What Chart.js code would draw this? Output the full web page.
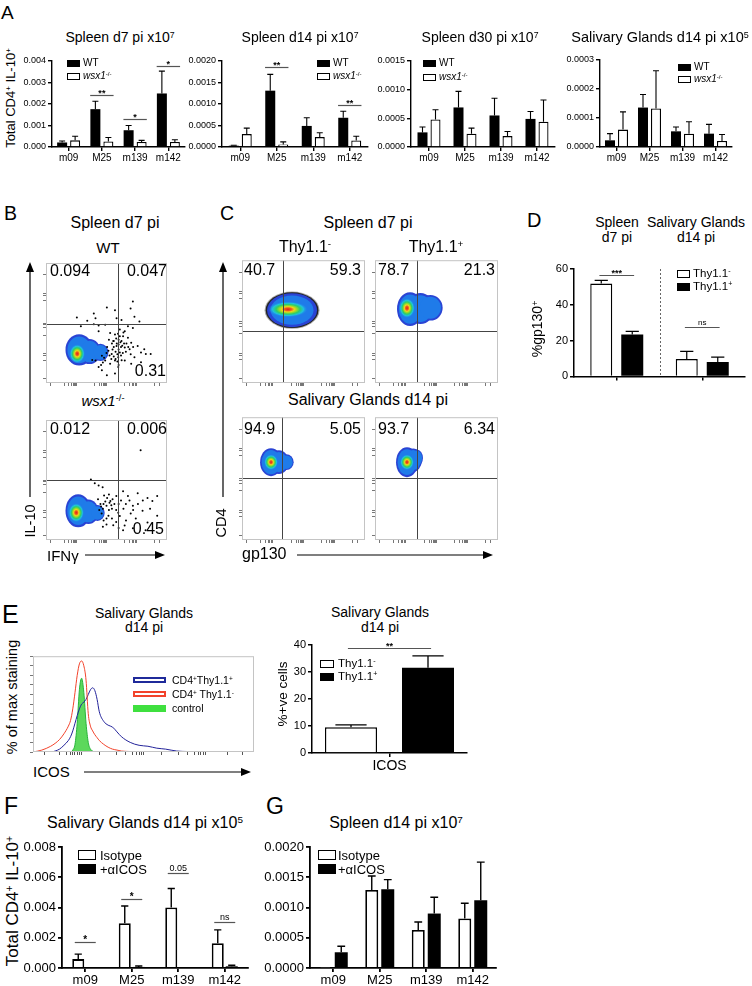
<!DOCTYPE html>
<html>
<head>
<meta charset="utf-8">
<script src="https://cdn.jsdelivr.net/npm/chart.js@4.4.1/dist/chart.umd.min.js"></script>
<style>
body{margin:0;background:#fff;}
#fig{position:relative;width:752px;height:986px;overflow:hidden;font-family:"Liberation Sans",Arial,sans-serif;color:#000;}
#fig canvas{position:absolute;}
.t{position:absolute;white-space:nowrap;line-height:1;}
.t sup{font-size:0.62em;vertical-align:baseline;position:relative;top:-0.5em;}
.key{position:absolute;box-sizing:border-box;}
</style>
</head>
<body>
<div id="fig"><svg id="deco" width="752" height="986" style="position:absolute;left:0;top:0"></svg></div>
<script>
// ---------- data ----------
const strains = ['m09', 'M25', 'm139', 'm142'];

// A: total CD4+ IL-10+ cells, WT vs wsx1-/-
const d7Wt = [0.00021, 0.00176, 0.00078, 0.00249];
const d7WtSem = [0.00007, 0.00037, 0.00022, 0.00104];
const d7Ko = [0.00031, 0.00026, 0.00023, 0.00023];
const d7KoSem = [0.00019, 0.00018, 0.00008, 0.00011];
const d7Sig = [[1, 0.00244, '**'], [2, 0.00129, '*'], [3, 0.00377, '*']];

const d14Wt = [0.00003, 0.00131, 0.00049, 0.00068];
const d14WtSem = [0.00001, 0.00038, 0.00019, 0.00015];
const d14Ko = [0.0003, 0.00006, 0.00023, 0.00015];
const d14KoSem = [0.00014, 0.00006, 0.0001, 0.0001];
const d14Sig = [[1, 0.00187, '**'], [3, 0.00097, '**']];

const d30Wt = [0.000255, 0.00069, 0.00055, 0.00049];
const d30WtSem = [0.000095, 0.00028, 0.0003, 0.00013];
const d30Ko = [0.00048, 0.00023, 0.00019, 0.00044];
const d30KoSem = [0.00017, 0.0001, 0.00008, 0.00038];

const sgWt = [0.000023, 0.000136, 0.000054, 0.000046];
const sgWtSem = [0.000023, 0.000045, 0.000015, 0.000032];
const sgKo = [0.00006, 0.000133, 0.000046, 0.000021];
const sgKoSem = [0.000061, 0.00013, 0.000041, 0.000022];

// B: IL-10 vs IFNg dot plots (channel units 0-1000)
const bWtGate = [597, 488];
const bWtCore = [258, 244, 65, 80];
const bWtShapes = [[274, 276, 113, 130], [360, 262, 92, 104], [450, 255, 66, 72]];
const bWtDots = [[718,680],[699,621],[570,607],[503,629],[395,580],[409,539],[255,545],[341,518],[395,490],[435,480],
  [288,472],[489,485],[583,539],[624,526],[731,553],[772,512],[677,472],[651,431],[718,458],[637,390],[677,377],
  [704,336],[758,309],[812,282],[785,254],[825,241],[865,241],[731,214],[785,173],[556,350],[583,309],[516,268],
  [543,241],[489,187],[530,160],[435,133],[503,65],[462,106],[570,187],[597,214],[610,254],[651,295],[691,282],
  [624,350],[570,404],[610,445],[530,417],[435,431],[651,187],[704,160],[597,133],[570,79],[409,187],[462,228],
  [382,192],[560,300],[585,330],[600,280],[575,260],[620,300],[600,360],[550,280],[590,240],
  [545,330],[560,350],[580,370],[600,320],[615,340],[630,310],[645,330],[560,220],[575,200],[590,180],[620,230],
  [635,250],[660,260],[665,330],[680,300],[540,200],[525,230],[610,390],[595,410],[640,420],[520,360],[505,300],
  [500,250],[480,210],[470,170],[455,150],[600,150],[625,190],[700,240],[720,300]];
const bKoGate = [597, 496];
const bKoCore = [250, 228, 65, 80];
const bKoShapes = [[266, 244, 105, 138], [350, 235, 86, 102], [425, 225, 60, 66]];
const bKoDots = [[782,748],[371,504],[403,472],[435,455],[468,439],[637,407],[677,366],[758,390],[839,350],[879,325],
  [919,366],[718,285],[798,244],[597,228],[661,163],[742,179],[839,146],[919,203],[532,325],[581,366],[500,285],
  [556,122],[637,81],[718,98],[823,81],[476,163],[516,203],[450,300],[470,260],[490,320],[520,250],[540,290],
  [460,220],[500,180],[430,340],[480,370],[520,380],[550,340],
  [440,250],[455,280],[475,300],[505,350],[525,310],[545,260],[565,300],[580,250],[600,300],[620,330],[640,260],
  [660,300],[690,330],[700,220],[720,250],[610,200],[580,150],[545,180],[500,130],[470,110],[600,100],[650,120],
  [760,300],[800,330],[860,260]];
const bQuad = [['0.094', '0.047', '0.31'], ['0.012', '0.006', '0.45']];

// C: CD4 vs gp130 dot plots
const cSpNegGate = [333, 423];
const cSpNegCore = [374, 600, 161, 65];
const cSpNegShapes = [[407, 593, 203, 138]];
const cSpPosGate = [342, 423];
const cSpPosCore = [260, 610, 65, 81];
const cSpPosShapes = [[285, 602, 106, 138], [370, 606, 110, 126], [450, 612, 100, 104]];
const cSgNegGate = [325, 504];
const cSgNegCore = [236, 634, 57, 65];
const cSgNegShapes = [[236, 634, 89, 114], [300, 634, 80, 96], [360, 634, 60, 64]];
const cSgPosGate = [342, 504];
const cSgPosCore = [260, 634, 57, 65];
const cSgPosShapes = [[260, 634, 89, 122], [310, 650, 70, 96], [340, 667, 50, 70]];
const cQuad = [['40.7', '59.3'], ['78.7', '21.3'], ['94.9', '5.05'], ['93.7', '6.34']];
const flowTicks = [40, 150, 190, 212, 226, 236, 244, 250, 400, 440, 462, 476, 486, 494, 500, 650, 690, 712, 726, 736, 744, 750, 900, 940];

// D: % gp130+
const dGroups = ['Spleen d7 pi', 'Salivary Glands d14 pi'];
const dNeg = [51.9, 9.7];
const dNegSem = [1.8, 4.3];
const dPos = [23.4, 8.1];
const dPosSem = [1.8, 2.7];
const dSig = [[0, 56.8, '***'], [1, 27.6, 'ns']];

// E: ICOS histogram (% of max) and % +ve cells
const histX = [0, 4, 8, 10, 12, 14, 16, 17, 18, 19, 20, 21, 22, 23, 24, 25, 26, 27, 28, 29, 30, 32, 34, 36, 38, 40, 44, 48, 52, 56, 60, 65, 70, 80, 90, 100];
const histPos = [0, 0, 0, 1, 3, 7, 12, 16, 22, 30, 38, 45, 50, 52, 55, 60, 65, 67, 64, 55, 42, 32, 28, 26, 21, 16, 10, 7, 6, 4, 3, 1, 0.5, 0, 0, 0];
const histNeg = [0, 2, 6, 9, 13, 19, 27, 33, 45, 62, 80, 92, 95, 90, 75, 40, 27, 22, 18, 15, 12, 8, 5, 3, 2, 1, 0.5, 0, 0, 0, 0, 0, 0, 0, 0, 0];
const histCtrl = [0, 0, 0, 0, 0, 0, 0, 0, 2, 8, 30, 65, 77, 62, 30, 10, 3, 1, 0, 0, 0, 0, 0, 0, 0, 0, 0, 0, 0, 0, 0, 0, 0, 0, 0, 0];
const histTicks = [5, 12, 15, 17, 18, 19, 20, 21, 22, 30, 38, 42, 45, 47, 48, 49, 50, 58, 66, 70, 73, 75, 76, 77, 78, 88, 95];
const icosNeg = [9.5];
const icosNegSem = [0.9];
const icosPos = [31.6];
const icosPosSem = [4.4];
const icosSig = [[0, 38.9, '**']];

// F / G: isotype vs anti-ICOS
const fIso = [0.00059, 0.00296, 0.004, 0.00164];
const fIsoSem = [0.00033, 0.00114, 0.00126, 0.00088];
const fIcos = [0.00001, 0.00007, 0.00002, 0.00011];
const fIcosSem = [0, 0.00006, 0, 0.00007];
const fSig = [[0, 0.00171, '*'], [1, 0.00454, '*'], [2, 0.0063, '0.05'], [3, 0.00307, 'ns']];

const gIso = [0.00001, 0.00129, 0.00063, 0.00082];
const gIsoSem = [0, 0.00023, 0.00013, 0.00025];
const gIcos = [0.00026, 0.0013, 0.0009, 0.00112];
const gIcosSem = [0.0001, 0.00016, 0.00027, 0.00063];

// ---------- helpers ----------
const FONT = '"Liberation Sans", Arial, sans-serif';
Chart.defaults.font.family = FONT;
Chart.defaults.color = '#000';
const fig = document.getElementById('fig');
const extras = {};

function txt(html, x, y, size, anchor, extra) {
  const d = document.createElement('div');
  d.className = 't';
  d.innerHTML = html;
  d.style.left = x + 'px';
  d.style.top = y + 'px';
  d.style.fontSize = size + 'px';
  const tx = anchor === 'c' ? '-50%' : anchor === 'r' ? '-100%' : '0';
  d.style.transform = 'translate(' + tx + ',-50%)' + (extra || '');
  fig.appendChild(d);
}
function vtxt(html, x, y, size) { txt(html, x, y, size, 'c', ' rotate(-90deg)'); }
function key(x, y, w, h, fill, border) {
  const d = document.createElement('div');
  d.className = 'key';
  Object.assign(d.style, {left: x + 'px', top: (y - h / 2) + 'px', width: w + 'px', height: h + 'px', background: fill, border: border || 'none'});
  fig.appendChild(d);
}
function addCanvas(id, left, top, w, h) {
  const cv = document.createElement('canvas');
  cv.id = id; cv.width = w; cv.height = h;
  cv.style.left = left + 'px'; cv.style.top = top + 'px';
  fig.appendChild(cv);
  return cv;
}

// error bars, significance bars, dotted divider, flow blobs/gates
const marks = {
  id: 'marks',
  beforeDatasetsDraw(chart) {
    const ex = extras[chart.canvas.id];
    if (ex && ex.blobs) drawBlobs(chart, ex);
  },
  afterDatasetsDraw(chart) {
    const ex = extras[chart.canvas.id];
    if (!ex) return;
    const ctx = chart.ctx, xs = chart.scales.x, ys = chart.scales.y, a = chart.chartArea;
    ctx.save();
    if (ex.kind === 'bar') {
      ctx.strokeStyle = '#000'; ctx.lineWidth = ex.errW;
      chart.data.datasets.forEach((ds, di) => {
        chart.getDatasetMeta(di).data.forEach((bar, i) => {
          if (!ds.sem || !ds.sem[i]) return;
          const top = ys.getPixelForValue(ds.data[i] + ds.sem[i]);
          const half = bar.width * 0.3;
          ctx.beginPath();
          ctx.moveTo(bar.x, bar.y); ctx.lineTo(bar.x, top);
          ctx.moveTo(bar.x - half, top); ctx.lineTo(bar.x + half, top);
          ctx.stroke();
        });
      });
      (ex.sig || []).forEach(s => {
        const b0 = chart.getDatasetMeta(0).data[s[0]], b1 = chart.getDatasetMeta(1).data[s[0]];
        const mid = (b0.x + b1.x) / 2, half = (b1.x - b0.x) * ex.sigSpan;
        const y = Math.round(ys.getPixelForValue(s[1])) + 0.5;
        ctx.strokeStyle = '#555'; ctx.lineWidth = 1.2;
        ctx.beginPath(); ctx.moveTo(mid - half, y); ctx.lineTo(mid + half, y); ctx.stroke();
        ctx.fillStyle = '#000';
        const small = s[2] === 'ns' || s[2] === '0.05';
        ctx.font = (small ? '' : 'bold ') + (small ? ex.sigSize - 1 : ex.sigSize) + 'px ' + FONT;
        ctx.textAlign = 'center'; ctx.textBaseline = 'alphabetic';
        ctx.fillText(s[2], mid, y - (small ? 3 : 0));
      });
      if (ex.divider) {
        const x = Math.round((xs.getPixelForValue(0) + xs.getPixelForValue(1)) / 2) + 0.5;
        ctx.strokeStyle = '#666'; ctx.lineWidth = 1; ctx.setLineDash([2, 2]);
        ctx.beginPath(); ctx.moveTo(x, a.top); ctx.lineTo(x, a.bottom); ctx.stroke();
      }
    } else {
      if (ex.gate) {
        const gx = Math.round(xs.getPixelForValue(ex.gate[0])) + 0.5;
        const gy = Math.round(ys.getPixelForValue(ex.gate[1])) + 0.5;
        ctx.strokeStyle = '#444'; ctx.lineWidth = 1;
        ctx.beginPath();
        ctx.moveTo(gx, a.top); ctx.lineTo(gx, a.bottom);
        ctx.moveTo(a.left, gy); ctx.lineTo(a.right, gy);
        ctx.stroke();
      }
      ctx.strokeStyle = '#c4c4c4'; ctx.lineWidth = 1;
      ctx.strokeRect(a.left + 0.5, a.top + 0.5, a.width - 1, a.height - 1);
    }
    ctx.restore();
  }
};
Chart.register(marks);

function drawBlobs(chart, ex) {
  const ctx = chart.ctx, xs = chart.scales.x, ys = chart.scales.y, a = chart.chartArea;
  const px = e => {
    const cx = xs.getPixelForValue(e[0]), cy = ys.getPixelForValue(e[1]);
    return {cx, cy, rx: Math.abs(xs.getPixelForValue(e[0] + e[2]) - cx), ry: Math.abs(ys.getPixelForValue(e[1] + e[3]) - cy)};
  };
  const path = (e, k) => {
    const p = px(e);
    ctx.beginPath(); ctx.ellipse(p.cx, p.cy, p.rx * k, p.ry * k, 0, 0, Math.PI * 2);
  };
  ctx.save();
  ctx.beginPath(); ctx.rect(a.left, a.top, a.width, a.height); ctx.clip();
  if (ex.halo) {
    // thin dark fringe of sparse events around the dense population
    ctx.fillStyle = 'rgba(60,60,60,0.45)';
    ex.blobs.forEach(e => { path(e, 1.1); ctx.fill(); });
    ctx.fillStyle = 'rgba(10,10,10,0.85)';
    ex.blobs.forEach(e => { path(e, 1.055); ctx.fill(); });
  }
  ctx.fillStyle = '#2a44d4';
  ex.blobs.forEach(e => { path(e, 1); ctx.fill(); });
  ctx.fillStyle = '#1f7be9';
  ex.blobs.forEach(e => { path(e, 0.86); ctx.fill(); });
  const c = px(ex.core);
  ctx.translate(c.cx, c.cy); ctx.scale(c.rx, c.ry);
  const g = ctx.createRadialGradient(0, 0, 0, 0, 0, 1);
  g.addColorStop(0, '#e0201c'); g.addColorStop(0.18, '#ee5a1c'); g.addColorStop(0.32, '#f0d41c');
  g.addColorStop(0.46, '#8edb2c'); g.addColorStop(0.6, '#2dcc6a'); g.addColorStop(0.78, '#1ec3dc');
  g.addColorStop(1, 'rgba(31,123,233,0)');
  ctx.fillStyle = g; ctx.beginPath(); ctx.arc(0, 0, 1, 0, Math.PI * 2); ctx.fill();
  ctx.restore();
}

function barChart(id, area, o) {
  const yw = 46, pt = 10, pr = 6, xh = o.xh;
  const cv = addCanvas(id, area.l - yw, area.t - pt, area.r - area.l + yw + pr, area.b - area.t + pt + xh);
  const catW = (area.r - area.l) / o.labels.length;
  const cp = 2 * o.slot / catW, bp = o.bar / o.slot;
  extras[id] = {kind: 'bar', sig: o.sig, sigSpan: o.sigSpan, sigSize: o.sigSize, errW: o.errW, divider: o.divider};
  return new Chart(cv, {
    type: 'bar',
    data: {
      labels: o.labels,
      datasets: o.sets.map(s => ({
        data: s.data, sem: s.sem,
        backgroundColor: s.fill, borderColor: '#000',
        borderWidth: s.fill === '#000' ? 0 : o.bw,
        barPercentage: bp, categoryPercentage: cp
      }))
    },
    options: {
      responsive: false, animation: false,
      layout: {padding: {top: pt, right: pr, left: 0, bottom: 0}},
      plugins: {legend: {display: false}, tooltip: {enabled: false}},
      scales: {
        x: {
          grid: {drawOnChartArea: false, offset: false, tickLength: 4, color: '#000', lineWidth: o.axisW},
          border: {color: '#000', width: o.axisW},
          ticks: {display: o.showCats, font: {size: o.catSize}, color: '#000', padding: 1, maxRotation: 0, autoSkip: false},
          afterFit: s => { s.height = xh; }
        },
        y: {
          min: 0, max: o.max,
          grid: {drawOnChartArea: false, tickLength: 4, color: '#000', lineWidth: o.axisW},
          border: {color: '#000', width: o.axisW},
          ticks: {stepSize: o.step, font: {size: o.tickSize}, color: '#000', padding: 2, callback: v => v.toFixed(o.dec)},
          afterFit: s => { s.width = yw; }
        }
      }
    }
  });
}

function flowAxis(len) {
  return {
    type: 'linear', min: 0, max: 1000,
    afterBuildTicks: s => { s.ticks = flowTicks.map(v => ({value: v})); },
    grid: {drawOnChartArea: false, tickLength: 3, color: '#777', lineWidth: 1},
    border: {display: false},
    ticks: {callback: () => '', font: {size: 2}, padding: 0},
    afterFit: s => { if (len === 'h') s.height = 4; else s.width = 4; }
  };
}

function flowChart(id, box, f) {
  const cv = addCanvas(id, box.l - 4, box.t - 1, box.r - box.l + 5, box.b - box.t + 5);
  extras[id] = {kind: 'flow', gate: f.gate, blobs: f.shapes, core: f.core, halo: f.halo};
  return new Chart(cv, {
    type: 'scatter',
    data: {datasets: [{data: (f.dots || []).map(p => ({x: p[0], y: p[1]})), pointRadius: 1, pointBackgroundColor: '#000', pointBorderWidth: 0}]},
    options: {
      responsive: false, animation: false,
      layout: {padding: {top: 1, right: 1, left: 0, bottom: 0}},
      plugins: {legend: {display: false}, tooltip: {enabled: false}},
      scales: {x: flowAxis('h'), y: flowAxis('v')}
    }
  });
}

// ---------- panel A ----------
txt('A', 1, 12, 19, 'l');
vtxt('Total CD4<sup>+</sup> IL-10<sup>+</sup>', 11, 98, 13);
const aBase = {labels: strains, tickSize: 9, catSize: 10, bar: 10, slot: 13, bw: 1.3, axisW: 1.4, errW: 1.1, xh: 18, showCats: true, sigSpan: 0.9, sigSize: 9};
barChart('a1', {l: 52, t: 61, r: 185, b: 147}, Object.assign({}, aBase, {max: 0.004, step: 0.001, dec: 3, sig: d7Sig,
  sets: [{data: d7Wt, sem: d7WtSem, fill: '#000'}, {data: d7Ko, sem: d7KoSem, fill: '#fff'}]}));
barChart('a2', {l: 222, t: 61, r: 368, b: 147}, Object.assign({}, aBase, {max: 0.002, step: 0.0005, dec: 4, sig: d14Sig,
  sets: [{data: d14Wt, sem: d14WtSem, fill: '#000'}, {data: d14Ko, sem: d14KoSem, fill: '#fff'}]}));
barChart('a3', {l: 411, t: 61, r: 555, b: 147}, Object.assign({}, aBase, {max: 0.0015, step: 0.0005, dec: 4,
  sets: [{data: d30Wt, sem: d30WtSem, fill: '#000'}, {data: d30Ko, sem: d30KoSem, fill: '#fff'}]}));
barChart('a4', {l: 600, t: 60, r: 732, b: 147}, Object.assign({}, aBase, {max: 0.0003, step: 0.0001, dec: 4,
  sets: [{data: sgWt, sem: sgWtSem, fill: '#000'}, {data: sgKo, sem: sgKoSem, fill: '#fff'}]}));
txt('Spleen d7 pi x10<sup>7</sup>', 120, 37, 14, 'c');
txt('Spleen d14 pi x10<sup>7</sup>', 300, 37, 14, 'c');
txt('Spleen d30 pi x10<sup>7</sup>', 480, 37, 14, 'c');
txt('Salivary Glands d14 pi x10<sup>5</sup>', 660, 37, 14.5, 'c');
[[67, 63, 76], [317, 63, 76], [423, 63, 77], [678, 67, 79]].forEach(k => {
  key(k[0], k[1], 13, 7, '#000');
  key(k[0], k[2], 13, 7, '#fff', '1.3px solid #000');
  txt('WT', k[0] + 16, k[1], 10, 'l');
  txt('<i>wsx1</i><sup>-/-</sup>', k[0] + 16, k[2], 10, 'l');
});

// ---------- panel B ----------
txt('B', 4, 214, 19.5, 'l');
txt('Spleen d7 pi', 115, 223, 16, 'c');
txt('WT', 108, 247, 15, 'c');
txt('<i>wsx1</i><sup>-/-</sup>', 103, 401, 15, 'c');
flowChart('b1', {l: 46, t: 260, r: 170, b: 383}, {gate: bWtGate, core: bWtCore, shapes: bWtShapes, dots: bWtDots});
flowChart('b2', {l: 46, t: 417, r: 170, b: 540}, {gate: bKoGate, core: bKoCore, shapes: bKoShapes, dots: bKoDots});
txt(bQuad[0][0], 50, 271, 16, 'l'); txt(bQuad[0][1], 167, 271, 16, 'r'); txt(bQuad[0][2], 166, 371, 16, 'r');
txt(bQuad[1][0], 50, 429, 16, 'l'); txt(bQuad[1][1], 167, 429, 16, 'r'); txt(bQuad[1][2], 164, 529, 16, 'r');
vtxt('IL-10', 30, 521, 14.5);
txt('IFN\u03b3', 47, 555, 15, 'l');

// ---------- panel C ----------
txt('C', 220, 214, 19.5, 'l');
txt('Spleen d7 pi', 368, 223, 16, 'c');
txt('Thy1.1<sup>-</sup>', 305, 247, 16, 'c');
txt('Thy1.1<sup>+</sup>', 436, 247, 16, 'c');
txt('Salivary Glands d14 pi', 368, 400, 16, 'c');
flowChart('c1', {l: 242, t: 260, r: 365, b: 383}, {gate: cSpNegGate, core: cSpNegCore, shapes: cSpNegShapes, halo: true});
flowChart('c2', {l: 375, t: 260, r: 498, b: 383}, {gate: cSpPosGate, core: cSpPosCore, shapes: cSpPosShapes});
flowChart('c3', {l: 242, t: 417, r: 365, b: 540}, {gate: cSgNegGate, core: cSgNegCore, shapes: cSgNegShapes});
flowChart('c4', {l: 375, t: 417, r: 498, b: 540}, {gate: cSgPosGate, core: cSgPosCore, shapes: cSgPosShapes});
[[244, 361, 270], [378, 495, 270], [244, 361, 429], [378, 495, 429]].forEach((p, i) => {
  txt(cQuad[i][0], p[0], p[2], 16, 'l');
  txt(cQuad[i][1], p[1], p[2], 16, 'r');
});
vtxt('CD4', 221, 523, 14.5);
txt('gp130', 242, 554, 16, 'l');

// ---------- panel D ----------
txt('D', 527, 220, 20, 'l');
txt('Spleen', 617, 222, 14, 'c'); txt('d7 pi', 617, 237, 14, 'c');
txt('Salivary Glands', 696, 222, 14, 'c'); txt('d14 pi', 696, 237, 14, 'c');
vtxt('%gp130<sup>+</sup>', 537, 329, 14);
barChart('d1', {l: 574, t: 269, r: 745, b: 380}, {labels: dGroups, max: 60, step: 20, dec: 0, tickSize: 11, catSize: 10,
  bar: 22, slot: 31, bw: 1.4, axisW: 1.5, errW: 1.2, xh: 5, showCats: false, sigSpan: 0.56, sigSize: 9, sig: dSig, divider: true,
  sets: [{data: dNeg, sem: dNegSem, fill: '#fff'}, {data: dPos, sem: dPosSem, fill: '#000'}]});
key(677, 274, 13, 8, '#fff', '1.3px solid #000');
key(677, 287, 13, 8, '#000');
txt('Thy1.1<sup>-</sup>', 693, 274, 11.5, 'l');
txt('Thy1.1<sup>+</sup>', 693, 287, 11.5, 'l');

// ---------- panel E ----------
txt('E', 2, 614, 25, 'l');
txt('Salivary Glands', 144, 613, 14, 'c'); txt('d14 pi', 144, 627, 14, 'c');
vtxt('% of max staining', 12, 697, 14.5);
txt('ICOS', 33, 771, 15, 'l');
(function () {
  const id = 'e1', box = {l: 33, t: 656, r: 254, b: 752};
  const cv = addCanvas(id, box.l - 4, box.t - 1, box.r - box.l + 5, box.b - box.t + 5);
  extras[id] = {kind: 'hist'};
  const pts = ys => histX.map((x, i) => ({x: x, y: ys[i]}));
  new Chart(cv, {
    type: 'line',
    data: {datasets: [
      {data: pts(histNeg), borderColor: '#f2432b', borderWidth: 1, pointRadius: 0, cubicInterpolationMode: 'monotone', fill: false},
      {data: pts(histPos), borderColor: '#23239a', borderWidth: 1, pointRadius: 0, cubicInterpolationMode: 'monotone', fill: false},
      {data: pts(histCtrl), borderColor: '#27b33a', backgroundColor: '#5cd85c', borderWidth: 1, pointRadius: 0, cubicInterpolationMode: 'monotone', fill: 'origin'}
    ]},
    options: {
      responsive: false, animation: false,
      layout: {padding: {top: 1, right: 1, left: 0, bottom: 0}},
      plugins: {legend: {display: false}, tooltip: {enabled: false}},
      scales: {
        x: {type: 'linear', min: 0, max: 100,
          afterBuildTicks: s => { s.ticks = histTicks.map(v => ({value: v})); },
          grid: {drawOnChartArea: false, tickLength: 3, color: '#555'}, border: {display: false},
          ticks: {callback: () => '', font: {size: 2}, padding: 0}, afterFit: s => { s.height = 4; }},
        y: {min: 0, max: 100, grid: {drawOnChartArea: false, tickLength: 3, color: '#777'}, border: {display: false},
          ticks: {stepSize: 10, callback: () => '', font: {size: 2}, padding: 0}, afterFit: s => { s.width = 4; }}
      }
    }
  });
})();
key(133, 680, 33, 6, '#fff', '2px solid #1f2a9a');
key(133, 694, 33, 6, '#fff', '2px solid #f2432b');
key(133, 708, 33, 7, '#3fe03f');
txt('CD4<sup>+</sup>Thy1.1<sup>+</sup>', 172, 680, 10.5, 'l');
txt('CD4<sup>+</sup> Thy1.1<sup>-</sup>', 172, 694, 10.5, 'l');
txt('control', 172, 708, 10.5, 'l');

txt('Salivary Glands', 380, 612, 14, 'c'); txt('d14 pi', 380, 627, 14, 'c');
vtxt('%+ve cells', 283, 694, 13.5);
barChart('e2', {l: 312, t: 645, r: 467, b: 753}, {labels: ['ICOS'], max: 40, step: 10, dec: 0, tickSize: 11, catSize: 14,
  bar: 52, slot: 77, bw: 1.4, axisW: 1.5, errW: 1.3, xh: 24, showCats: true, sigSpan: 0.54, sigSize: 9, sig: icosSig,
  sets: [{data: icosNeg, sem: icosNegSem, fill: '#fff'}, {data: icosPos, sem: icosPosSem, fill: '#000'}]});
key(320, 664, 14, 8, '#fff', '1.3px solid #000');
key(320, 677, 14, 8, '#000');
txt('Thy1.1<sup>-</sup>', 338, 664, 11.5, 'l');
txt('Thy1.1<sup>+</sup>', 338, 677, 11.5, 'l');

// ---------- panels F and G ----------
txt('F', 4, 806, 23, 'l');
txt('G', 266, 806, 23, 'l');
txt('Salivary Glands d14 pi x10<sup>5</sup>', 145, 823, 16, 'c');
txt('Spleen d14 pi x10<sup>7</sup>', 396, 823, 16, 'c');
vtxt('Total CD4<sup>+</sup> IL-10<sup>+</sup>', 12, 901, 17);
const fgBase = {labels: strains, tickSize: 13, catSize: 13, bar: 12, slot: 14, bw: 1.8, axisW: 1.8, errW: 1.4, xh: 18, showCats: true, sigSpan: 0.75, sigSize: 10};
barChart('f1', {l: 62, t: 847, r: 248, b: 968}, Object.assign({}, fgBase, {max: 0.008, step: 0.002, dec: 3, sig: fSig,
  sets: [{data: fIso, sem: fIsoSem, fill: '#fff'}, {data: fIcos, sem: fIcosSem, fill: '#000'}]}));
barChart('g1', {l: 310, t: 847, r: 496, b: 968}, Object.assign({}, fgBase, {max: 0.002, step: 0.0005, dec: 4, bar: 13, slot: 16,
  sets: [{data: gIso, sem: gIsoSem, fill: '#fff'}, {data: gIcos, sem: gIcosSem, fill: '#000'}]}));
[[78, 100], [318, 338]].forEach(k => {
  key(k[0], 855, 18, 10, '#fff', '1.6px solid #000');
  key(k[0], 869, 18, 10, '#000');
  txt('Isotype', k[1], 855, 13, 'l');
  txt('+\u03b1ICOS', k[1], 869, 13, 'l');
});

// ---------- axis arrows ----------
document.getElementById('deco').innerHTML =
  '<g stroke="#000" stroke-width="1.2" fill="#000">' +
  '<line x1="30" y1="497" x2="30" y2="270"/><polygon points="30,262 26,272 34,272" stroke="none"/>' +
  '<line x1="85" y1="555" x2="157" y2="555"/><polygon points="165,555 155,551 155,559" stroke="none"/>' +
  '<line x1="223" y1="497" x2="223" y2="270"/><polygon points="223,262 219,272 227,272" stroke="none"/>' +
  '<line x1="297" y1="555" x2="485" y2="555"/><polygon points="493,555 483,551 483,559" stroke="none"/>' +
  '<line x1="84" y1="772" x2="243" y2="772"/><polygon points="251,772 241,768 241,776" stroke="none"/>' +
  '</g>';
</script>
</body>
</html>
